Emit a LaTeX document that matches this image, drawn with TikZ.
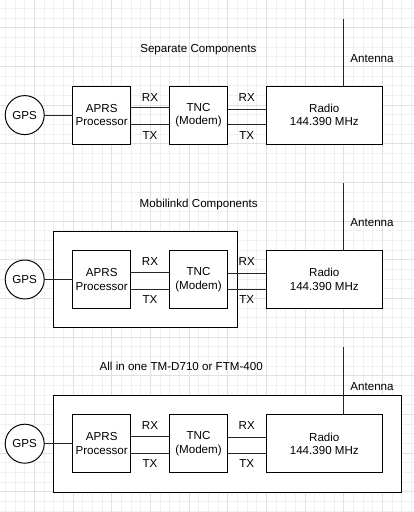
\documentclass[tikz,border=0pt]{standalone}
\usepackage{fontspec}
\setmainfont{Liberation Sans}
\usetikzlibrary{calc}
\begin{document}
\begin{tikzpicture}[x=1pt,y=-1pt,
  every node/.style={font=\fontsize{11.6}{13.4}\selectfont, inner sep=0pt, outer sep=0pt},
  lbl/.style={text height=8.3pt, text depth=0pt},
  box/.style={draw=black, fill=white, line width=0.97pt, minimum width=58pt, minimum height=58pt, align=center},
  wide/.style={box, minimum width=116pt},
  gpsc/.style={draw=black, fill=white, line width=0.97pt, circle, minimum size=39pt},
  wire/.style={draw=black!85, line width=0.97pt},
  frame/.style={draw=black, fill=white, line width=0.97pt},
  minorgrid/.style={draw=black!6, line width=0.8pt},
  majorgrid/.style={draw=black!12, line width=0.8pt}]
\useasboundingbox (0,0) rectangle (414,512);
\fill[white] (0,0) rectangle (414,512);
% grid
\foreach \i in {-3,...,39} \draw[minorgrid] ({34.3+9.667*\i},0) -- ++(0,512);
\foreach \i in {0,...,52} \draw[minorgrid] (0,{8.37+9.667*\i}) -- ++(414,0);
\foreach \i in {0,...,9} \draw[majorgrid] ({34.3+38.667*\i},0) -- ++(0,512);
\foreach \i in {0,...,12} \draw[majorgrid] (0,{27.7+38.667*\i}) -- ++(414,0);
% titles and outer frames
\node[lbl] (title1) at (198.3,48.3) {Separate Components};
\node[lbl] (title2) at (198.7,203.3) {Mobilinkd Components};
\node[lbl] (title3) at (181.2,366.7) {All in one TM-D710 or FTM-400};
\node[frame, minimum width=183.6pt, minimum height=95.8pt] (mobframe) at (145.5,279.5) {};
\node[frame, minimum width=348pt, minimum height=97pt] (aioframe) at (227.7,443.8) {};
% sections
\foreach \s/\cy in {1/115.1, 2/279.5, 3/443.7} {
  \node[gpsc] (gps\s) at (24.7,\cy) {GPS};
  \node[box] (aprs\s) at (101.7,\cy) {APRS\\Processor};
  \node[box] (tnc\s) at (198.5,\cy) {TNC\\(Modem)};
  \node[wide] (radio\s) at (324.3,\cy) {Radio\\144.390 MHz};
  \coordinate (ant\s) at (343.7,{\cy-96.3});
  \draw[wire] (ant\s) -- (ant\s |- radio\s.north);
  \node[lbl] (antl\s) at (372,{\cy-57}) {Antenna};
  \draw[wire] (gps\s) -- (aprs\s);
  \draw[wire] ($(aprs\s.east)+(0,-7.5)$) -- ($(tnc\s.west)+(0,-7.5)$);
  \draw[wire] ($(aprs\s.east)+(0,9.8)$) -- ($(tnc\s.west)+(0,9.8)$);
  \draw[wire] ($(tnc\s.east)+(0,-6)$) -- ($(radio\s.west)+(0,-6)$);
  \draw[wire] ($(tnc\s.east)+(0,9.8)$) -- ($(radio\s.west)+(0,9.8)$);
  \node[lbl] (rxa\s) at (150,{\cy-18.2}) {RX};
  \node[lbl] (txa\s) at (150,{\cy+20.1}) {TX};
  \node[lbl] (rxb\s) at (246.7,{\cy-18.2}) {RX};
  \node[lbl] (txb\s) at (246.7,{\cy+20.1}) {TX};
}
\end{tikzpicture}
\end{document}
